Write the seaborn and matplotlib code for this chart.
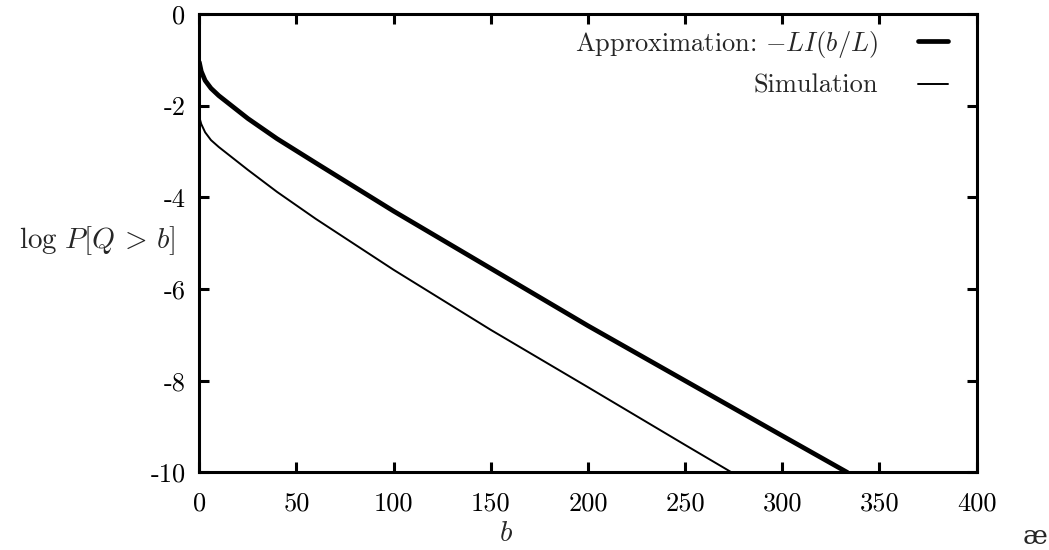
import pandas as pd
import numpy as np
import matplotlib
matplotlib.use('Agg')
import matplotlib.pyplot as plt
import seaborn as sns

# -- data --
b_approx = [0, 1, 3, 6, 10, 16, 25, 40, 60, 100, 150, 200, 250, 300, 333.5]
y_approx = [-1.05, -1.25, -1.45, -1.62, -1.78, -1.98, -2.28, -2.72, -3.25,
            -4.30, -5.55, -6.80, -8.00, -9.20, -10.0]

b_sim = [0, 1, 3, 6, 10, 16, 25, 40, 60, 100, 150, 200, 250, 274.0]
y_sim = [-2.25, -2.40, -2.58, -2.75, -2.90, -3.10, -3.40, -3.88, -4.47,
         -5.58, -6.89, -8.14, -9.40, -10.0]

x_ticks = [0, 50, 100, 150, 200, 250, 300, 350, 400]
y_ticks = [0, -2, -4, -6, -8, -10]
y_tick_labels = ['0', '-2', '-4', '-6', '-8', '-10']

approx_label = r'Approximation: $-LI(b/L)$'
sim_label = 'Simulation'

df_a = pd.DataFrame({'b': b_approx, 'logp': y_approx})
df_s = pd.DataFrame({'b': b_sim, 'logp': y_sim})

# -- style --
sns.set_style('ticks')
plt.rcParams['font.family'] = ['cmr10', 'DejaVu Serif']
plt.rcParams['mathtext.fontset'] = 'cm'
plt.rcParams['axes.unicode_minus'] = False
plt.rcParams['axes.formatter.use_mathtext'] = True

fig = plt.figure(figsize=(10.49, 5.50), dpi=100)
ax = fig.add_axes([0.190, 0.141, 0.741, 0.8335])

sns.lineplot(data=df_a, x='b', y='logp', color='black', linewidth=3.4,
             label=approx_label, ax=ax, sort=False)
sns.lineplot(data=df_s, x='b', y='logp', color='black', linewidth=1.4,
             label=sim_label, ax=ax, sort=False)

ax.set_xlim(0, 400)
ax.set_ylim(-10, 0)
ax.set_xticks(x_ticks)
ax.set_xticklabels([str(t) for t in x_ticks])
ax.set_yticks(y_ticks)
ax.set_yticklabels(y_tick_labels)

for sp in ax.spines.values():
    sp.set_linewidth(2.2)
    sp.set_color('black')
ax.tick_params(direction='in', top=True, right=True, length=7.2, width=2.2,
               labelsize=19, colors='black', pad=10)
ax.tick_params(axis='x', pad=14)

ax.set_xlabel(r'$b$', fontsize=21, va='center')
ax.xaxis.set_label_coords(0.394, -0.134)
ax.set_ylabel(r'$\log\, P[Q\, >\, b]$', fontsize=21, rotation=0, ha='center', va='center')
ax.yaxis.set_label_coords(-0.132, 0.505)

leg = ax.legend(loc='upper right', bbox_to_anchor=(0.963, 0.968), frameon=False,
                markerfirst=False, fontsize=19, handlelength=1.15, handletextpad=1.5,
                borderpad=0, borderaxespad=0, labelspacing=0.55)

fig.text(0.987, 0.024, 'æ', fontsize=19, ha='center', va='center')

plt.savefig('out.png', dpi=100)
